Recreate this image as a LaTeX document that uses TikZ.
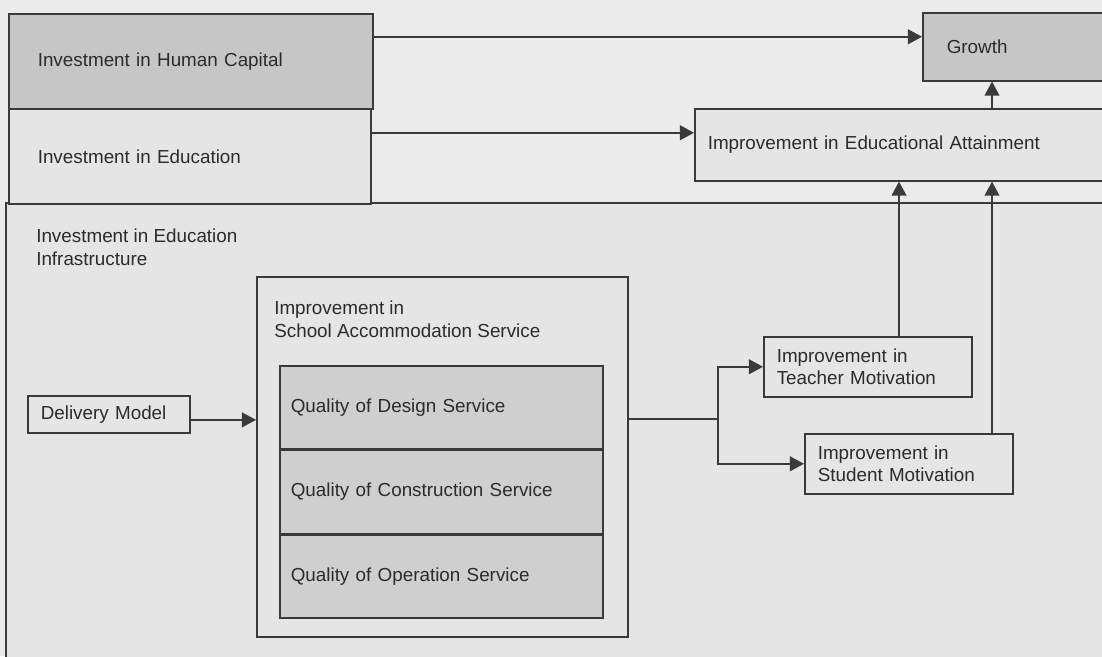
\documentclass[tikz,border=0pt]{standalone}
\usepackage{fontspec}
\setmainfont{Liberation Sans}
\usetikzlibrary{arrows.meta}
\definecolor{bgGray}{HTML}{EBEBEB}
\definecolor{lightFill}{HTML}{E5E5E5}
\definecolor{darkFill}{HTML}{C6C6C6}
\definecolor{midFill}{HTML}{CFCFCF}
\definecolor{lineGray}{HTML}{3A3A3A}
\definecolor{textGray}{HTML}{2B2B2B}
\newcommand{\labelfont}{\fontsize{13.4}{16}\selectfont}

\begin{document}
\begin{tikzpicture}[x=0.025cm,y=-0.025cm,
  box/.style={draw=lineGray, line width=1.1pt, anchor=north west, inner ysep=0pt, align=left, font=\labelfont, text=textGray},
  lbl/.style={anchor=north west, inner sep=0pt, align=left, font=\labelfont, text=textGray},
  link/.style={draw=lineGray, line width=1.1pt},
  flow/.style={link, -{Triangle[length=10pt,width=10.5pt]}}]
\useasboundingbox (0,0) rectangle (1102,656);
\clip (0,0) rectangle (1102,656);
\fill[bgGray] (0,0) rectangle (1102,656);

% outer frame for infrastructure
\draw[link, fill=lightFill] (6,203) rectangle (1140,700);
\node[lbl]   (infraText)     at (36,229) {Investment in Education\\Infrastructure};

\node[box, fill=darkFill,  inner xsep=0.725cm, text width=7.65cm,  minimum height=2.375cm] (humanCapital) at (8,13)    {Investment in Human Capital};
\node[box, fill=lightFill, inner xsep=0.725cm, text width=7.6cm,   minimum height=2.375cm] (education)    at (8,108)   {Investment in Education};
\node[box, fill=darkFill,  inner xsep=0.6cm,   text width=4.25cm,  minimum height=1.7cm]   (growth)       at (922,12)  {Growth};
\node[box, fill=lightFill, inner xsep=0.325cm, text width=10.25cm, minimum height=1.8cm]   (attainment)   at (694,108) {Improvement in Educational Attainment};

\node[box, fill=lightFill, minimum width=9.275cm, minimum height=9cm] (school) at (256,276) {};
\node[lbl]   (schoolText)    at ([xshift=0.45cm,yshift=-0.625cm]school.north west) {Improvement in\\School Accommodation Service};
\node[box, fill=midFill, inner xsep=0.275cm, text width=7.525cm, minimum height=2.075cm] (design)       at (279,365)            {Quality of Design Service};
\node[box, fill=midFill, inner xsep=0.275cm, text width=7.525cm, minimum height=2.075cm] (construction) at (design.south west)       {Quality of Construction Service};
\node[box, fill=midFill, inner xsep=0.275cm, text width=7.525cm, minimum height=2.075cm] (operation)    at (construction.south west) {Quality of Operation Service};

\node[box, fill=lightFill, inner xsep=0.325cm, text width=3.4cm,  minimum height=0.925cm] (delivery) at (27,395)  {Delivery Model};
\node[box, fill=lightFill, inner xsep=0.325cm, text width=4.55cm, minimum height=1.5cm]   (teacher)  at (763,336) {Improvement in\\Teacher Motivation};
\node[box, fill=lightFill, inner xsep=0.325cm, text width=4.55cm, minimum height=1.5cm]   (student)  at (804,433) {Improvement in\\Student Motivation};

\coordinate (hcOut)  at ([yshift=0.6125cm]humanCapital.east);
\coordinate (eduOut) at ([yshift=0.5875cm]education.east);
\coordinate (dmOut)  at ([yshift=-0.14cm]delivery.east);
\coordinate (split)  at (718,419);
\coordinate (colL)   at (899,0);
\coordinate (colR)   at (992,0);

\draw[flow] (hcOut) -- (hcOut -| growth.west);
\draw[flow] (eduOut) -- (eduOut -| attainment.west);
\draw[flow] (attainment.north -| colR) -- (growth.south -| colR);
\draw[flow] (teacher.north -| colL) -- (attainment.south -| colL);
\draw[flow] (student.north -| colR) -- (attainment.south -| colR);
\draw[flow] (dmOut) -- (dmOut -| school.west);
\draw[link] (split -| school.east) -- (split);
\draw[flow] (split) |- (teacher.west);
\draw[flow] (split) |- (student.west);
\end{tikzpicture}
\end{document}
